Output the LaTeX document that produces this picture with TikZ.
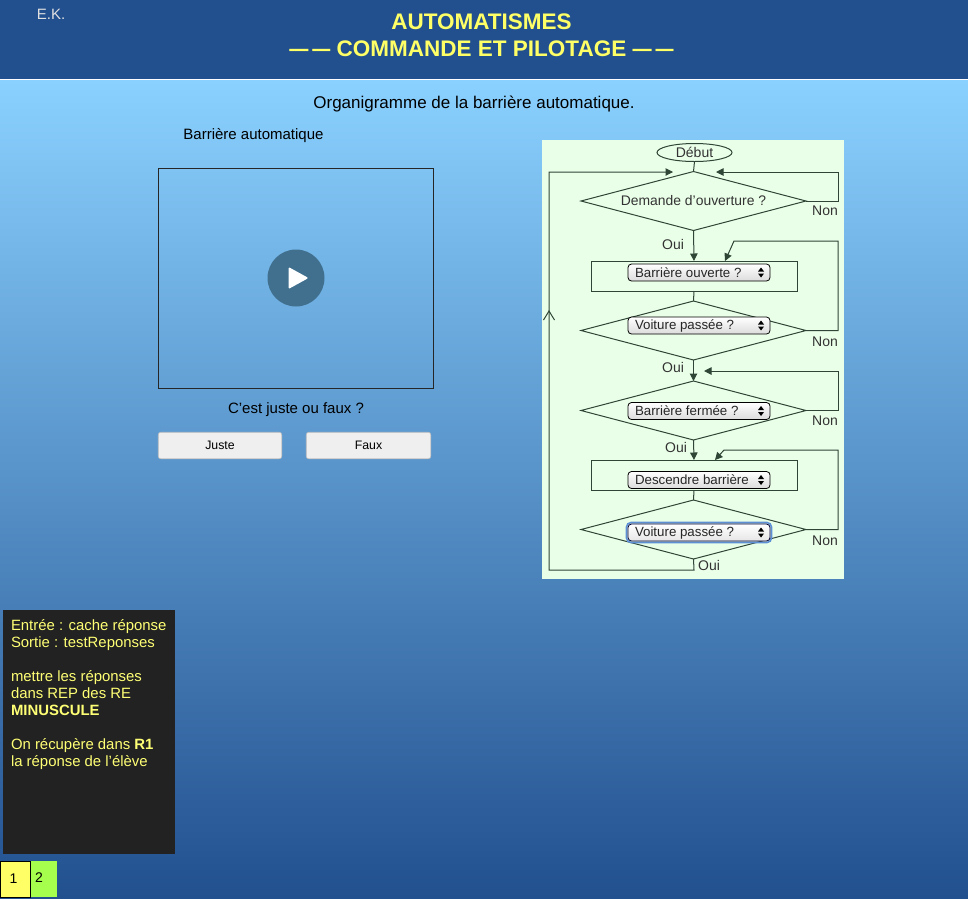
\documentclass[tikz,border=0pt]{standalone}
\usepackage{fontspec}
\usepackage{graphicx}
\setmainfont{Liberation Sans}
\usetikzlibrary{shapes.geometric,arrows.meta,calc}
\definecolor{hdr}{HTML}{22508F}
\definecolor{skytop}{HTML}{8AD1FF}
\definecolor{ylw}{HTML}{FFFF66}
\definecolor{panelgreen}{HTML}{EAFFE8}
\definecolor{fline}{HTML}{2F4636}
\definecolor{ftext}{HTML}{333333}
\definecolor{notes}{HTML}{222222}
\definecolor{btn}{HTML}{EFEFEF}
\definecolor{playc}{HTML}{41708F}
\definecolor{focusb}{HTML}{5C8FD6}
\tikzset{
  x=1pt,y=-1pt,
  plain/.style={inner sep=0pt,outer sep=0pt},
  dec/.style={diamond,draw=fline,line width=1pt,plain,minimum width=225pt,minimum height=59pt,aspect=3.8},
  act/.style={rectangle,draw=fline,line width=1pt,plain,minimum width=206pt,minimum height=30pt},
  flow/.style={draw=fline,line width=1pt},
  tip/.style={flow,-{Triangle[length=7.5pt,width=7.5pt]}},
  widget/.style={rectangle,rounded corners=3.5pt,draw=black,line width=.8pt,top color=white,bottom color=black!14,plain,minimum width=142pt,minimum height=17pt,font=\fontsize{13.3}{15}\selectfont,text=black!85},
  flab/.style={plain,text=ftext,font=\fontsize{14}{16}\selectfont},
  webbtn/.style={rectangle,rounded corners=2.5pt,fill=btn,draw=black!25,line width=.6pt,plain,minimum height=26.5pt,font=\fontsize{12.3}{14}\selectfont,text=black},
  pagetext/.style={plain,text=black,font=\fontsize{15}{18}\selectfont},
}
\newcommand{\wtext}[1]{\makebox[128pt][l]{#1}}
\newcommand{\tdash}{\scalebox{0.85}[1]{—}\kern4pt\scalebox{0.8}[1]{—}}
\begin{document}
\begin{tikzpicture}
\useasboundingbox (0,0) rectangle (968,898);
% background
\shade[top color=skytop,bottom color=hdr] (0,80) rectangle (968,898);
\fill[hdr] (0,0) rectangle (968,79);
% header
\node[plain,text=black!12,font=\fontsize{15}{18}\selectfont] (ek) at (51,14) {E.K.};
\node[plain,text=ylw,align=center,font=\bfseries\fontsize{22.5}{27}\selectfont] (title) at (481.5,35) {AUTOMATISMES\\\tdash{} COMMANDE ET PILOTAGE \tdash};
\node[plain,text=black,font=\fontsize{17}{20}\selectfont] (org) at (474,103.5) {Organigramme de la barrière automatique.};
\node[pagetext] (ba) at (253.5,136) {Barrière automatique};
% video
\node[rectangle,draw=black!85,line width=.9pt,plain,minimum width=275.5pt,minimum height=220pt] (video) at (296,278) {};
\node[circle,fill=playc,plain,minimum size=57pt] (play) at (video.center) {};
\fill[white,rounded corners=1.2pt] (288.5,267) -- (308.5,278) -- (288.5,289) -- cycle;
\node[pagetext] (q) at (296,409.5) {C’est juste ou faux ?};
\node[webbtn,minimum width=123.5pt] (juste) at (220,445.5) {Juste};
\node[webbtn,minimum width=124.5pt] (faux) at (368.5,445.5) {Faux};
% flowchart panel
\fill[panelgreen] (542,140) rectangle (844,579);
\node[ellipse,draw=fline,line width=1pt,plain,minimum width=75pt,minimum height=18pt,text=ftext,font=\fontsize{14}{16}\selectfont] (debut) at (694.5,152.5) {Début};
\node[dec,text=ftext,font=\fontsize{13.9}{16}\selectfont] (d1) at (693.5,201) {Demande d'ouverture ?};
\node[act] (r1) at (694,276) {};
\node[dec] (d2) at (693.5,330.5) {};
\node[dec] (d3) at (693.5,410.5) {};
\node[act] (r2) at (694,475) {};
\node[dec] (d4) at (693.5,529.5) {};
% connector corners
\coordinate (n1) at (838,201); \coordinate (n1a) at (838,172); \coordinate (n1t) at (716,172);
\coordinate (n2) at (838,330.5); \coordinate (n2a) at (838,241); \coordinate (n2b) at (734,241); \coordinate (n2t) at (725,261);
\coordinate (n3) at (838,410.5); \coordinate (n3a) at (838,371); \coordinate (n3t) at (704,371);
\coordinate (n4) at (838,529.5); \coordinate (n4a) at (838,450); \coordinate (n4b) at (724,450); \coordinate (n4t) at (715,460);
\coordinate (bk0) at (694,570); \coordinate (bk1) at (549,570); \coordinate (bk2) at (549,172); \coordinate (bkt) at (673,172);
\coordinate (mid) at (549,311);
% connectors
\draw[flow] (debut.south) -- (d1.north);
\draw[tip] (d1.south) -- (r1.north);
\draw[flow] (r1.south) -- (d2.north);
\draw[tip] (d2.south) -- (d3.north);
\draw[tip] (d3.south) -- (r2.north);
\draw[flow] (r2.south) -- (d4.north);
\draw[tip] (d1.east) -- (n1) -- (n1a) -- (n1t);
\draw[tip] (d2.east) -- (n2) -- (n2a) -- (n2b) -- (n2t);
\draw[tip] (d3.east) -- (n3) -- (n3a) -- (n3t);
\draw[tip] (d4.east) -- (n4) -- (n4a) -- (n4b) -- (n4t);
\draw[tip] (d4.south) -- (bk0) -- (bk1) -- (bk2) -- (bkt);
\draw[flow] ($(mid)+(-5.5,9)$) -- (mid) -- ($(mid)+(5.5,9)$);
% widgets
\node[widget] (w1) at (699,272.5) {\wtext{Barrière ouverte ?}};
\node[widget] (w2) at (699,325.5) {\wtext{Voiture passée ?}};
\node[widget] (w3) at (699,411) {\wtext{Barrière fermée ?}};
\node[widget] (w4) at (699,480) {\wtext{Descendre barrière}};
\draw[focusb,line width=1.6pt,rounded corners=4.5pt] (626.5,522.5) rectangle (771.5,542.5);
\node[widget,top color=white,bottom color=black!10,draw=black!80!blue] (w5) at (699,532.5) {\wtext{Voiture passée ?}};
\foreach \w in {w1,w2,w3,w4,w5}{
  \fill[black] ($(\w.east)+(-12,-1)$) -- ($(\w.east)+(-6,-1)$) -- ($(\w.east)+(-9,-5)$) -- cycle;
  \fill[black] ($(\w.east)+(-12,1)$) -- ($(\w.east)+(-6,1)$) -- ($(\w.east)+(-9,5)$) -- cycle;
}
% flow labels
\node[flab] (l1) at (825,210.5) {Non};
\node[flab] (l2) at (673,244.5) {Oui};
\node[flab] (l3) at (825,341.5) {Non};
\node[flab] (l4) at (673,367.5) {Oui};
\node[flab] (l5) at (825,420.5) {Non};
\node[flab] (l6) at (676,447.5) {Oui};
\node[flab] (l7) at (825,540.5) {Non};
\node[flab] (l8) at (709,565.5) {Oui};
% notes
\node[rectangle,fill=notes,plain,minimum width=172pt,minimum height=244pt] (notes) at (89,732) {};
\node[plain,anchor=north west,align=left,text=ylw!90!white,font=\fontsize{14.9}{17}\selectfont] (notetext) at (11,619.5) {Entrée : cache réponse\\Sortie : testReponses\\[17pt]mettre les réponses\\dans REP des RE\\\textbf{MINUSCULE}\\[17pt]On récupère dans \textbf{R1}\\la réponse de l’élève};
% page tabs
\node[rectangle,fill=ylw,draw=black,line width=.8pt,plain,minimum width=30pt,minimum height=36pt,font=\fontsize{14}{16}\selectfont] (p1) at (15,879) {\raisebox{1pt}{\kern-3pt 1}};
\node[rectangle,fill=green!50!yellow!70!white,plain,minimum width=26pt,minimum height=36pt,font=\fontsize{14}{16}\selectfont] (p2) at (44,879) {\raisebox{2.5pt}{\kern-10pt 2}};
\end{tikzpicture}
\end{document}
